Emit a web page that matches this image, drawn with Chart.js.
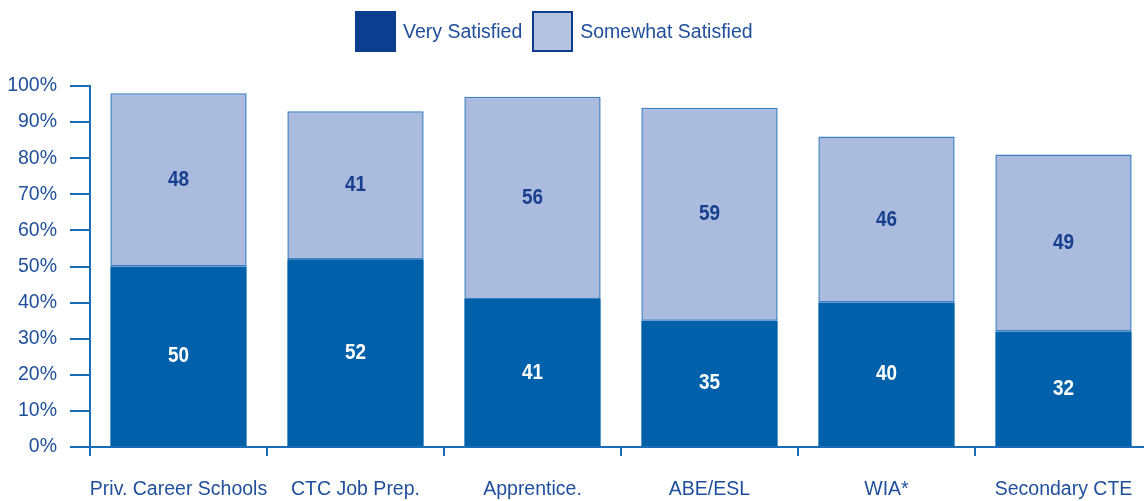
<!DOCTYPE html>
<html>
<head>
<meta charset="utf-8">
<title>Satisfaction by program</title>
<script src="https://cdn.jsdelivr.net/npm/chart.js@4.4.1/dist/chart.umd.min.js"></script>
<style>
  html, body { margin: 0; padding: 0; background: #fff; }
  #wrap { position: relative; width: 1144px; height: 501px; overflow: hidden; }
  #legend { position: absolute; left: 355px; top: 11px; display: flex; align-items: center;
            font-family: "Liberation Sans", Arial, sans-serif; font-size: 19.5px; color: #1f4f9c; }
  #legend .item { display: flex; align-items: center; margin-right: 10px; }
  #legend .box { width: 41px; height: 41px; box-sizing: border-box; margin-right: 7px; }
</style>
</head>
<body>
<div id="wrap">
  <canvas id="satChart" width="1160" height="501"></canvas>
  <div id="legend"></div>
</div>
<script>
const programs = ["Priv. Career Schools", "CTC Job Prep.", "Apprentice.", "ABE/ESL", "WIA*", "Secondary CTE"];
const verySatisfied = [50, 52, 41, 35, 40, 32];
const somewhatSatisfied = [48, 41, 56, 59, 46, 49];
const yTicks = ["0%", "10%", "20%", "30%", "40%", "50%", "60%", "70%", "80%", "90%", "100%"];

const FONT = "'Liberation Sans', Arial, sans-serif";
const axisBlue = "#1a6cb5";
const labelBlue = "#1f4f9c";

// value labels in the middle of each stacked segment (bold, slightly condensed)
const segmentLabels = {
  id: "segmentLabels",
  afterDatasetsDraw(chart) {
    const ctx = chart.ctx;
    chart.data.datasets.forEach((ds, i) => {
      chart.getDatasetMeta(i).data.forEach((bar, j) => {
        ctx.save();
        ctx.translate(bar.x, (bar.y + bar.base) / 2);
        ctx.scale(0.86, 1);
        ctx.font = "bold 22px " + FONT;
        ctx.textAlign = "center";
        ctx.textBaseline = "middle";
        ctx.fillStyle = ds.labelColor;
        ctx.fillText(ds.data[j], 0, 0);
        ctx.restore();
      });
    });
  }
};

const chart = new Chart(document.getElementById("satChart"), {
  type: "bar",
  data: {
    labels: programs,
    datasets: [
      {
        label: "Very Satisfied",
        data: verySatisfied,
        backgroundColor: "#0061aa",
        borderWidth: 0,
        labelColor: "#ffffff",
        legendFill: "#0d3d8f"
      },
      {
        label: "Somewhat Satisfied",
        data: somewhatSatisfied,
        backgroundColor: "#abbbdd",
        borderColor: "#3a7dc2",
        borderWidth: 1.5,
        borderSkipped: false,
        labelColor: "#173f8f",
        legendFill: "#b5c3e0"
      }
    ]
  },
  options: {
    responsive: false,
    animation: false,
    categoryPercentage: 1,
    barPercentage: 0.77,
    layout: { padding: { top: 86, right: 8, left: 0, bottom: 0 } },
    plugins: {
      legend: { display: false },
      tooltip: { enabled: false }
    },
    scales: {
      x: {
        stacked: true,
        afterFit: s => { s.height = 54; },
        border: { color: axisBlue, width: 2 },
        grid: { offset: true, drawOnChartArea: false, tickLength: 9, color: axisBlue, lineWidth: 2 },
        ticks: { color: labelBlue, font: { family: FONT, size: 19.5 }, padding: 22, maxRotation: 0, autoSkip: false }
      },
      y: {
        stacked: true,
        min: 0,
        max: 100,
        afterFit: s => { s.width = 90; },
        border: { color: axisBlue, width: 2 },
        grid: { drawOnChartArea: false, tickLength: 20, color: axisBlue, lineWidth: 2 },
        ticks: {
          stepSize: 10,
          color: labelBlue,
          padding: 13,
          font: { family: FONT, size: 19.5 },
          callback: (v, i) => yTicks[i]
        }
      }
    }
  },
  plugins: [segmentLabels]
});

// html legend built from the datasets
const legendEl = document.getElementById("legend");
chart.data.datasets.forEach((ds, i) => {
  const item = document.createElement("div");
  item.className = "item";
  const box = document.createElement("span");
  box.className = "box";
  box.style.background = ds.legendFill;
  if (i === 1) box.style.border = "2px solid #0d3d8f";
  const txt = document.createElement("span");
  txt.textContent = ds.label;
  item.appendChild(box);
  item.appendChild(txt);
  legendEl.appendChild(item);
});
</script>
</body>
</html>
